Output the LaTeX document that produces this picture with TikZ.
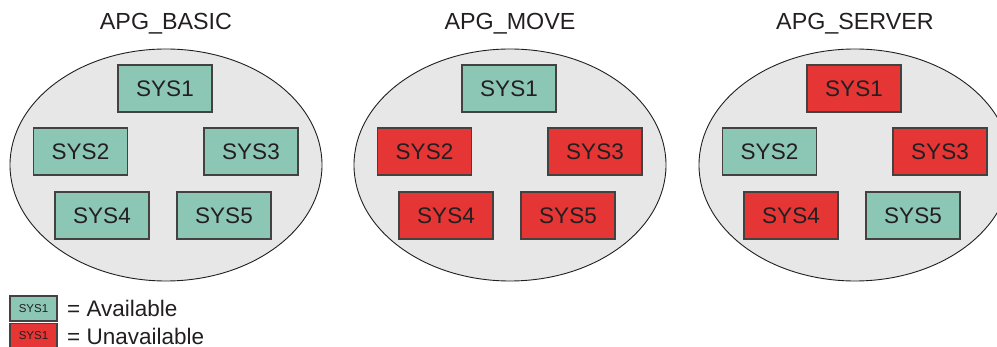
\documentclass[tikz,border=0pt]{standalone}
\usepackage{fontspec}
\setmainfont{Liberation Sans}
\usetikzlibrary{shapes.geometric}
\definecolor{avail}{HTML}{8CC6B5}
\definecolor{unavail}{HTML}{E53535}
\definecolor{ellfill}{HTML}{E7E7E7}
\definecolor{ink}{HTML}{231F20}
\tikzset{
  sysbox/.style={draw=ink!85, line width=1.3pt, minimum width=94pt, minimum height=47pt, inner sep=0pt, font=\fontsize{22.5}{24}\selectfont, text=ink},
  av/.style={sysbox, fill=avail},
  un/.style={sysbox, fill=unavail},
  group/.style={ellipse, draw=ink, line width=0.9pt, fill=ellfill, minimum width=312pt, minimum height=232pt, inner sep=0pt},
  title/.style={font=\fontsize{23.3}{25}\selectfont, text=ink},
  legbox/.style={draw=ink!85, line width=1.1pt, minimum width=47pt, minimum height=25pt, inner sep=0pt, font=\fontsize{11.5}{12}\selectfont, text=ink},
  legtext/.style={anchor=west, font=\fontsize{22.5}{24}\selectfont, text=ink, inner sep=0pt}
}
\begin{document}
\begin{tikzpicture}[x=1pt,y=-1pt]
\useasboundingbox (0,0) rectangle (997,347);
\clip (0,0) rectangle (997,347);
% group 1
\node[title] (t1) at (166,24) {APG\_BASIC};
\node[group] (e1) at (166,165) {};
\node[av] (a1) at (165,88.5) {SYS1};
\node[av] (a2) at (80.5,151.5) {SYS2};
\node[av] (a3) at (251,151.5) {SYS3};
\node[av] (a4) at (102,215.5) {SYS4};
\node[av] (a5) at (224,215.5) {SYS5};
% group 2
\node[title] (t2) at (510,24) {APG\_MOVE};
\node[group] (e2) at (510,165) {};
\node[av] (b1) at (509,88.5) {SYS1};
\node[un] (b2) at (424.5,151.5) {SYS2};
\node[un] (b3) at (595,151.5) {SYS3};
\node[un] (b4) at (446,215.5) {SYS4};
\node[un] (b5) at (568,215.5) {SYS5};
% group 3
\node[title] (t3) at (855,24) {APG\_SERVER};
\node[group] (e3) at (855,165) {};
\node[un] (c1) at (854,88.5) {SYS1};
\node[av] (c2) at (769.5,151.5) {SYS2};
\node[un] (c3) at (940,151.5) {SYS3};
\node[un] (c4) at (791,215.5) {SYS4};
\node[av] (c5) at (913,215.5) {SYS5};
% legend
\node[legbox, fill=avail] (l1) at (33.5,308.5) {SYS1};
\node[legtext] (lt1) at (67,308.5) {= Available};
\node[legbox, fill=unavail] (l2) at (33.5,336) {SYS1};
\node[legtext] (lt2) at (67,336) {= Unavailable};
\end{tikzpicture}
\end{document}
